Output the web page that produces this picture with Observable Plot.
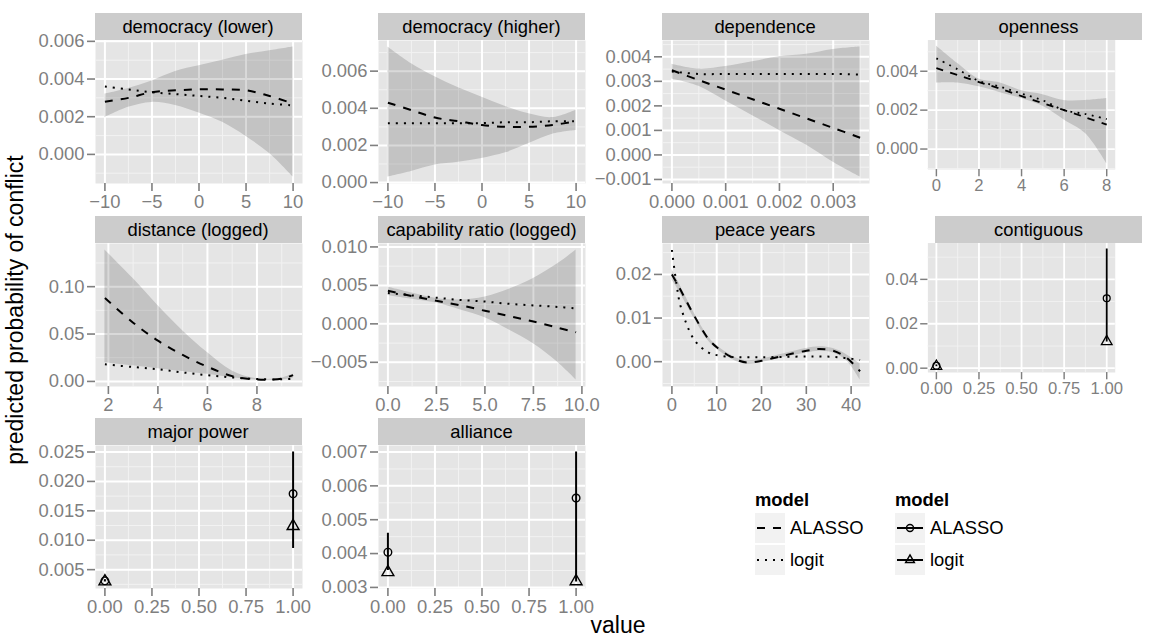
<!DOCTYPE html>
<html>
<head>
<meta charset="utf-8">
<script src="https://cdn.jsdelivr.net/npm/d3@7"></script>
<script src="https://cdn.jsdelivr.net/npm/@observablehq/plot@0.6"></script>
<style>
  body { margin: 0; background: #ffffff; }
  #chart { position: relative; width: 1151px; height: 639px; overflow: hidden; background: #ffffff;
           font-family: 'Liberation Sans', Arial, Helvetica, sans-serif; }
  .strip { position: absolute; background: #CCCCCC; color: #000; font-size: 18.4px; text-align: center;
           white-space: nowrap; overflow: hidden; }
  .panel { position: absolute; }
</style>
</head>
<body>
<div id="chart"></div>
<script>
// ---------------- data ----------------
const panelTitles = ["democracy (lower)", "democracy (higher)", "dependence", "openness",
  "distance (logged)", "capability ratio (logged)", "peace years", "contiguous",
  "major power", "alliance"];
const modelNames = ["ALASSO", "logit"];
const xTitle = "value";
const yTitle = "predicted probability of conflict";

// democracy (lower)
const demLowX = [-10, -7.5, -5, -2.5, 0, 2.5, 5, 7.5, 10];
const demLowAlasso = [0.0028, 0.0030, 0.0033, 0.0034, 0.00345, 0.00345, 0.0034, 0.0031, 0.0027];
const demLowLogit = [0.0036, 0.00345, 0.0033, 0.0032, 0.0031, 0.0030, 0.00285, 0.0027, 0.0026];
const demLowLo = [0.00195, 0.0025, 0.00276, 0.0026, 0.0022, 0.0017, 0.00095, 0.00005, -0.0012];
const demLowHi = [0.0032, 0.0035, 0.0039, 0.0044, 0.0047, 0.0050, 0.0053, 0.0055, 0.0057];
const demLowXTicks = [-10, -5, 0, 5, 10];
const demLowYTicks = [0, 0.002, 0.004, 0.006];

// democracy (higher)
const demHighX = [-10, -7.5, -5, -2.5, 0, 2.5, 5, 7.5, 10];
const demHighAlasso = [0.0043, 0.0039, 0.0035, 0.0033, 0.0031, 0.0030, 0.0030, 0.0031, 0.0033];
const demHighLogit = [0.0032, 0.0032, 0.0032, 0.0032, 0.0032, 0.00325, 0.00325, 0.0033, 0.0033];
const demHighLo = [0.0003, 0.0006, 0.00095, 0.0011, 0.0013, 0.0016, 0.0021, 0.0026, 0.0028];
const demHighHi = [0.0073, 0.0064, 0.0057, 0.0051, 0.0046, 0.0041, 0.0037, 0.0035, 0.0039];
const demHighXTicks = [-10, -5, 0, 5, 10];
const demHighYTicks = [0, 0.002, 0.004, 0.006];

// dependence
const depX = [0, 0.0005, 0.001, 0.0015, 0.002, 0.0025, 0.003, 0.0035];
const depAlasso = [0.00345, 0.00305, 0.00266, 0.00227, 0.00188, 0.00149, 0.0011, 0.0007];
const depLogit = [0.0034, 0.0033, 0.0033, 0.0033, 0.0033, 0.0033, 0.0033, 0.00328];
const depLo = [0.0031, 0.0028, 0.0022, 0.0016, 0.0010, 0.0004, -0.0003, -0.0009];
const depHi = [0.0037, 0.0035, 0.0036, 0.0038, 0.0040, 0.0041, 0.0043, 0.0044];
const depXTicks = [0, 0.001, 0.002, 0.003];
const depYTicks = [-0.001, 0, 0.001, 0.002, 0.003, 0.004];

// openness
const openX = [0, 1, 2, 3, 4, 5, 6, 7, 8];
const openAlasso = [0.00416, 0.0038, 0.00344, 0.0031, 0.00272, 0.00236, 0.002, 0.00163, 0.00125];
const openLogit = [0.00466, 0.0041, 0.0035, 0.0032, 0.00285, 0.0025, 0.0020, 0.0018, 0.00154];
const openLo = [0.0034, 0.0034, 0.0032, 0.0029, 0.0026, 0.0022, 0.0015, 0.0008, -0.00075];
const openHi = [0.0053, 0.0044, 0.0036, 0.0034, 0.0030, 0.0028, 0.0025, 0.0025, 0.0026];
const openXTicks = [0, 2, 4, 6, 8];
const openYTicks = [0, 0.002, 0.004];

// distance (logged)
const distX = [1.86, 3, 4, 5, 6, 7, 8, 9, 9.46];
const distAlasso = [0.088, 0.062, 0.043, 0.028, 0.0155, 0.0056, 0.002, 0.003, 0.0067];
const distLogit = [0.018, 0.0152, 0.0128, 0.0095, 0.0066, 0.0042, 0.0025, 0.0022, 0.0028];
const distLo = [0.0198, 0.0165, 0.0135, 0.0105, 0.0075, 0.004, 0.0015, 0.0015, 0.003];
const distHi = [0.1387, 0.1085, 0.080, 0.0535, 0.0304, 0.011, 0.0028, 0.0035, 0.0078];
const distXTicks = [2, 4, 6, 8];
const distYTicks = [0, 0.05, 0.10];

// capability ratio (logged)
const capX = [0, 1.25, 2.5, 3.75, 5, 6.25, 7.5, 8.75, 9.7];
const capAlasso = [0.0043, 0.0036, 0.0030, 0.0024, 0.0017, 0.0010, 0.0003, -0.0005, -0.0011];
const capLogit = [0.0040, 0.0037, 0.0034, 0.0031, 0.0029, 0.0026, 0.0024, 0.0022, 0.0020];
const capLo = [0.0037, 0.0032, 0.0027, 0.0018, 0.0008, -0.0008, -0.0026, -0.0050, -0.0073];
const capHi = [0.0048, 0.0040, 0.0033, 0.0031, 0.0035, 0.0045, 0.0059, 0.0078, 0.0096];
const capXTicks = [0, 2.5, 5, 7.5, 10];
const capYTicks = [-0.005, 0, 0.005, 0.010];

// peace years
const peaceX = [0, 1, 2, 5, 8, 10, 13, 15, 17, 20, 25, 30, 33, 36, 39, 42];
const peaceAlasso = [0.0200, 0.0182, 0.0163, 0.0105, 0.0054, 0.0033, 0.0012, 0.0002, -0.0002, 0.0002, 0.0014, 0.0025, 0.0029, 0.0025, 0.0009, -0.0022];
const peaceLogit = [0.0256, 0.0180, 0.0125, 0.0050, 0.0022, 0.0015, 0.0011, 0.0010, 0.0010, 0.0010, 0.0011, 0.0012, 0.0012, 0.0011, 0.0008, 0.0004];
const peaceLo = [0.0187, 0.0172, 0.0154, 0.0099, 0.0049, 0.0029, 0.0008, -0.0002, -0.0006, -0.0002, 0.0010, 0.0020, 0.0024, 0.0020, 0.0002, -0.0042];
const peaceHi = [0.0212, 0.0192, 0.0172, 0.0111, 0.0059, 0.0037, 0.0016, 0.0006, 0.0002, 0.0006, 0.0018, 0.0030, 0.0034, 0.0030, 0.0016, -0.0005];
const peaceXTicks = [0, 10, 20, 30, 40];
const peaceYTicks = [0, 0.01, 0.02];

// contiguous
const contX = [0, 1];
const contAlasso = [0.0011, 0.0315];
const contLogit = [0.0009, 0.0120];
const contLo = [0.0007, 0.0118];
const contHi = [0.0015, 0.0537];
const contYTicks = [0, 0.02, 0.04];

// major power
const majX = [0, 1];
const majAlasso = [0.0031, 0.0179];
const majLogit = [0.0030, 0.0124];
const majLo = [0.0029, 0.0086];
const majHi = [0.0033, 0.0250];
const majYTicks = [0.005, 0.010, 0.015, 0.020, 0.025];

// alliance
const allyX = [0, 1];
const allyAlasso = [0.00404, 0.00564];
const allyLogit = [0.00345, 0.00318];
const allyLo = [0.0035, 0.00316];
const allyHi = [0.0046, 0.0070];
const allyYTicks = [0.003, 0.004, 0.005, 0.006, 0.007];

const binaryXTicks = [0, 0.25, 0.5, 0.75, 1];

// ---------------- layout / style ----------------
const FONT = "'Liberation Sans', Arial, Helvetica, sans-serif";
const PANEL_W = 207, PANEL_H = 143, STRIP_H = 27;
const colX = [94.5, 378, 661.5, 935];
const rowY = [40, 243, 445];
const ML = 80, MR = 40, MT = 4, MB = 40;
const TICK_GREY = "#7F7F7F";

const panels = [
  {kind: "curve", x: demLowX, a: demLowAlasso, l: demLowLogit, lo: demLowLo, hi: demLowHi, xt: demLowXTicks, yt: demLowYTicks, xf: "d", yf: ".3f"},
  {kind: "curve", x: demHighX, a: demHighAlasso, l: demHighLogit, lo: demHighLo, hi: demHighHi, xt: demHighXTicks, yt: demHighYTicks, xf: "d", yf: ".3f"},
  {kind: "curve", x: depX, a: depAlasso, l: depLogit, lo: depLo, hi: depHi, xt: depXTicks, yt: depYTicks, xf: ".3f", yf: ".3f"},
  {kind: "curve", x: openX, a: openAlasso, l: openLogit, lo: openLo, hi: openHi, xt: openXTicks, yt: openYTicks, xf: "d", yf: ".3f"},
  {kind: "curve", x: distX, a: distAlasso, l: distLogit, lo: distLo, hi: distHi, xt: distXTicks, yt: distYTicks, xf: "d", yf: ".2f"},
  {kind: "curve", x: capX, a: capAlasso, l: capLogit, lo: capLo, hi: capHi, xt: capXTicks, yt: capYTicks, xf: ".1f", yf: ".3f"},
  {kind: "curve", x: peaceX, a: peaceAlasso, l: peaceLogit, lo: peaceLo, hi: peaceHi, xt: peaceXTicks, yt: peaceYTicks, xf: "d", yf: ".2f"},
  {kind: "point", x: contX, a: contAlasso, l: contLogit, lo: contLo, hi: contHi, xt: binaryXTicks, yt: contYTicks, xf: ".2f", yf: ".2f"},
  {kind: "point", x: majX, a: majAlasso, l: majLogit, lo: majLo, hi: majHi, xt: binaryXTicks, yt: majYTicks, xf: ".2f", yf: ".3f"},
  {kind: "point", x: allyX, a: allyAlasso, l: allyLogit, lo: allyLo, hi: allyHi, xt: binaryXTicks, yt: allyYTicks, xf: ".2f", yf: ".3f"}
];

function expand([a, b]) { const e = (b - a) * 0.05; return [a - e, b + e]; }
function minorOf(ticks, dom) {
  const s = ticks[1] - ticks[0];
  const m = [ticks[0] - s / 2, ...ticks.map(t => t + s / 2)];
  return m.filter(v => v >= dom[0] && v <= dom[1]);
}

const chart = document.getElementById("chart");

panels.forEach((p, i) => {
  const col = i % 4, row = Math.floor(i / 4);
  const rows = p.x.map((v, j) => ({x: v, alasso: p.a[j], logit: p.l[j], lo: p.lo[j], hi: p.hi[j]}));
  const xd = expand(d3.extent(p.x));
  const yd = expand(d3.extent([...p.a, ...p.l, ...p.lo, ...p.hi]));
  const axisStyle = {tickSize: 8, tickPadding: 3, stroke: TICK_GREY, fill: TICK_GREY, strokeWidth: 1.6, label: null};
  const marks = [
    Plot.frame({fill: "#E5E5E5", stroke: "none"}),
    Plot.gridX(minorOf(p.xt, xd), {stroke: "#F2F2F2", strokeOpacity: 1, strokeWidth: 1}),
    Plot.gridY(minorOf(p.yt, yd), {stroke: "#F2F2F2", strokeOpacity: 1, strokeWidth: 1}),
    Plot.gridX(p.xt, {stroke: "#FFFFFF", strokeOpacity: 1, strokeWidth: 2}),
    Plot.gridY(p.yt, {stroke: "#FFFFFF", strokeOpacity: 1, strokeWidth: 2})
  ];
  if (p.kind === "curve") {
    marks.push(
      Plot.areaY(rows, {x: "x", y1: "lo", y2: "hi", fill: "#000000", fillOpacity: 0.15, curve: "catmull-rom"}),
      Plot.lineY(rows, {x: "x", y: "alasso", stroke: "#000", strokeWidth: 2, strokeDasharray: "8,8", strokeLinecap: "butt", curve: "catmull-rom"}),
      Plot.lineY(rows, {x: "x", y: "logit", stroke: "#000", strokeWidth: 2, strokeDasharray: "2,6", strokeLinecap: "butt", curve: "catmull-rom"})
    );
  } else {
    marks.push(
      Plot.ruleX(rows, {x: "x", y1: "lo", y2: "hi", stroke: "#000", strokeWidth: 2}),
      Plot.dot(rows, {x: "x", y: "alasso", r: 3.8, stroke: "#000", fill: "none", strokeWidth: 1.4}),
      Plot.dot(rows, {x: "x", y: "logit", r: 4.4, symbol: "triangle", stroke: "#000", fill: "none", strokeWidth: 1.4})
    );
  }
  marks.push(
    Plot.axisX(p.xt, {...axisStyle, tickFormat: d3.format(p.xf)}),
    Plot.axisY(p.yt, {...axisStyle, tickFormat: d3.format(p.yf)})
  );
  const svg = Plot.plot({
    width: ML + PANEL_W + MR,
    height: MT + PANEL_H + MB,
    marginLeft: ML, marginRight: MR, marginTop: MT, marginBottom: MB,
    x: {type: "linear", domain: xd, label: null},
    y: {type: "linear", domain: yd, label: null},
    style: {background: "transparent", overflow: "visible", fontFamily: FONT, fontSize: "18.4px", color: "#000"},
    marks
  });
  const holder = document.createElement("div");
  holder.className = "panel";
  holder.style.left = (colX[col] - ML) + "px";
  holder.style.top = (rowY[row] - MT) + "px";
  holder.appendChild(svg);
  chart.appendChild(holder);

  const strip = document.createElement("div");
  strip.className = "strip";
  strip.style.left = colX[col] + "px";
  strip.style.top = (rowY[row] - STRIP_H) + "px";
  strip.style.width = PANEL_W + "px";
  strip.style.height = STRIP_H + "px";
  strip.style.lineHeight = STRIP_H + "px";
  strip.textContent = panelTitles[i];
  chart.appendChild(strip);
});

// ---------------- titles and legends ----------------
const overlay = d3.select("#chart").append("svg")
  .attr("width", 1151).attr("height", 639)
  .style("position", "absolute").style("left", "0px").style("top", "0px")
  .style("pointer-events", "none")
  .style("font-family", FONT);

overlay.append("text")
  .attr("transform", "translate(23,310) rotate(-90)")
  .attr("text-anchor", "middle").attr("font-size", 23).attr("fill", "#000")
  .text(yTitle);
overlay.append("text")
  .attr("x", 618).attr("y", 633)
  .attr("text-anchor", "middle").attr("font-size", 23).attr("fill", "#000")
  .text(xTitle);

function drawLegend(x0, kind) {
  const g = overlay.append("g");
  g.append("text").attr("x", x0).attr("y", 506).attr("font-size", 18.4).attr("font-weight", "bold").text("model");
  modelNames.forEach((name, k) => {
    const top = 513 + 32 * k, cy = top + 15;
    g.append("rect").attr("x", x0).attr("y", top).attr("width", 30).attr("height", 30).attr("fill", "#F2F2F2");
    if (kind === "line") {
      g.append("line").attr("x1", x0 + 2).attr("x2", x0 + 28).attr("y1", cy).attr("y2", cy)
        .attr("stroke", "#000").attr("stroke-width", 2)
        .attr("stroke-dasharray", k === 0 ? "8,8" : "2,6");
    } else {
      g.append("line").attr("x1", x0 + 2).attr("x2", x0 + 28).attr("y1", cy).attr("y2", cy)
        .attr("stroke", "#000").attr("stroke-width", 2);
      if (k === 0) {
        g.append("circle").attr("cx", x0 + 15).attr("cy", cy).attr("r", 3.5)
          .attr("fill", "none").attr("stroke", "#000").attr("stroke-width", 1.4);
      } else {
        g.append("path").attr("transform", `translate(${x0 + 15},${cy})`)
          .attr("d", d3.symbol(d3.symbolTriangle2, 55)())
          .attr("fill", "none").attr("stroke", "#000").attr("stroke-width", 1.4);
      }
    }
    g.append("text").attr("x", x0 + 35).attr("y", cy).attr("dy", "0.35em")
      .attr("font-size", 18.4).text(name);
  });
}
drawLegend(755, "line");
drawLegend(895, "point");
</script>
</body>
</html>
